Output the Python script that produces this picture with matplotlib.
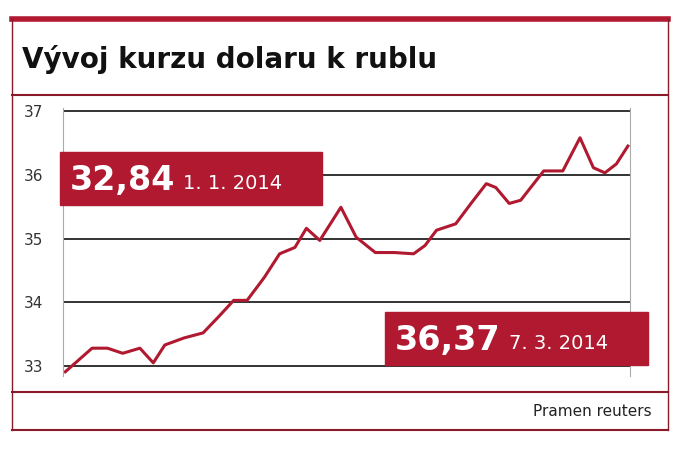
import matplotlib
matplotlib.use("Agg")
import matplotlib.pyplot as plt
from matplotlib.patches import Rectangle
from matplotlib.lines import Line2D

# horizontal positions (pixel-like day scale)
days = [65.3,92.1,107.4,122.7,139.9,153.3,164.8,183.9,203.1,218.4,233.7,247.1,264.3,279.6,294.9,306.4,319.8,340.9,356.2,375.3,394.4,413.6,425.0,436.5,455.7,471.0,486.3,495.8,509.2,520.7,543.7,562.8,580.0,593.4,604.9,616.4,627.9]
rate = [32.91,33.28,33.28,33.2,33.28,33.05,33.33,33.44,33.52,33.77,34.03,34.03,34.39,34.76,34.86,35.16,34.97,35.49,35.02,34.78,34.78,34.76,34.89,35.13,35.23,35.55,35.86,35.8,35.55,35.6,36.06,36.06,36.58,36.11,36.03,36.17,36.45]
yticks = [33,34,35,36,37]
title = "Vývoj kurzu dolaru k rublu"
red = "#b0192f"

W, H = 688, 459
fig = plt.figure(figsize=(6.88, 4.59), dpi=100)
def fx(p): return p / W
def fy(p): return 1 - p / H

for yp, lw, c in [(19, 4, red), (95, 1.5, "#8a1a2a"), (392, 1.5, "#8a1a2a"), (430, 1.5, "#8a1a2a")]:
    fig.add_artist(Line2D([fx(12), fx(668)], [fy(yp), fy(yp)], color=c, lw=lw))
fig.add_artist(Line2D([fx(12), fx(12)], [fy(19), fy(430)], color="#8a1a2a", lw=1))
fig.add_artist(Line2D([fx(668), fx(668)], [fy(19), fy(430)], color="#8a1a2a", lw=1))
fig.text(fx(22), fy(60), title, fontsize=20, fontweight="bold", va="center", ha="left", color="#111")
fig.text(fx(652), fy(411), "Pramen reuters", fontsize=11, va="center", ha="right", color="#222")

ax = fig.add_axes([fx(63), fy(375.6), fx(630) - fx(63), fy(107.8) - fy(375.6)])
ax.plot(days, rate, color=red, lw=2.2)
ax.set_xlim(63, 630)
ax.set_ylim(32.85, 37.05)
ax.set_yticks(yticks)
ax.set_yticklabels([str(v) for v in yticks], fontsize=11, color="#333")
ax.yaxis.grid(True, color="#111", lw=1.2)
ax.tick_params(axis="y", length=0, pad=14)
ax.set_xticks([])
for s in ["top", "bottom"]:
    ax.spines[s].set_visible(False)
for s in ["left", "right"]:
    ax.spines[s].set_color("#aaa")

def label(x0, y0, x1, y1, big, small):
    fig.add_artist(Rectangle((fx(x0), fy(y1)), fx(x1) - fx(x0), fy(y0) - fy(y1), color=red, zorder=5))
    t = fig.text(fx(x0 + 10), fy((y0 + y1) / 2 + 2), big, fontsize=24, fontweight="bold", color="white", va="center", ha="left", zorder=6)
    fig.canvas.draw()
    bb = t.get_window_extent()
    fig.text(bb.x1 / W + fx(8), fy((y0 + y1) / 2 + 5), small, fontsize=14, color="white", va="center", ha="left", zorder=6)

label(60, 152, 322, 205, "32,84", "1. 1. 2014")
label(385, 312, 648, 365, "36,37", "7. 3. 2014")

fig.savefig("out.png", dpi=100)
